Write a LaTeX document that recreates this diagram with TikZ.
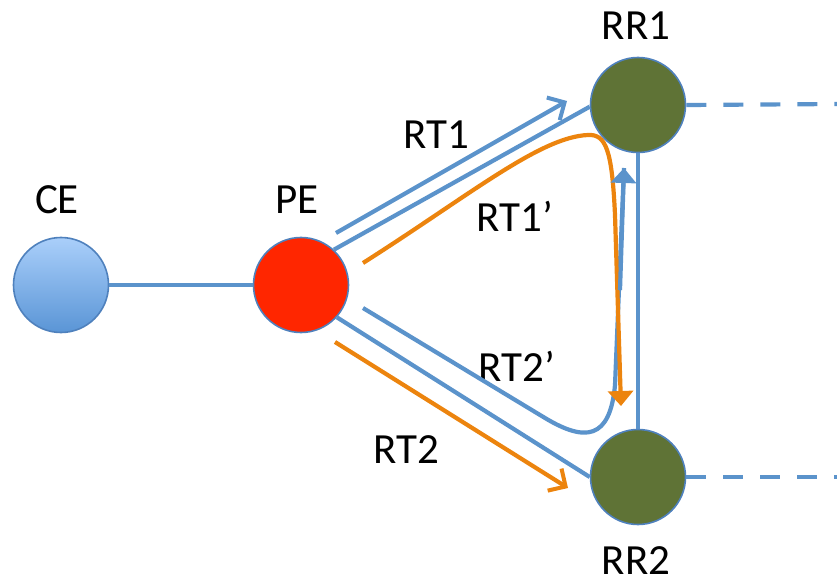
\documentclass[tikz,border=0pt]{standalone}
\usepackage{fontspec}
\setmainfont{Carlito}
\usetikzlibrary{arrows.meta}
\definecolor{lineblue}{HTML}{5B93CB}
\definecolor{edgeblue}{HTML}{4F81BD}
\definecolor{rtorange}{HTML}{EC840E}
\definecolor{rrolive}{HTML}{5F7336}
\definecolor{pered}{HTML}{FF2600}
\definecolor{cetop}{HTML}{AACFFA}
\definecolor{cebot}{HTML}{5A95D6}
\tikzset{
  router/.style={circle, draw=edgeblue, line width=1.6pt, minimum size=95pt, inner sep=0pt},
  lbl/.style={font=\fontsize{43}{45}\selectfont, inner sep=0pt, text=black},
  bline/.style={draw=lineblue, line width=4.2pt},
  oline/.style={draw=rtorange, line width=4.2pt},
  openhead/.style={-{Straight Barb[length=13pt,width=26pt,line width=4pt]}},
  fillhead/.style={-{Triangle[length=15pt,width=25pt]}},
}
\begin{document}
\begin{tikzpicture}[x=1pt,y=-1pt]
\useasboundingbox (0,0) rectangle (837,585);
% routers
\node[router, top color=cetop, bottom color=cebot] (ce) at (61,285) {};
\node[router, fill=pered] (pe) at (301,285) {};
\node[router, fill=rrolive] (rr1) at (638,105) {};
\node[router, fill=rrolive] (rr2) at (638,477) {};
% labels
\node[lbl] (lce) at (57,200) {CE};
\node[lbl] (lpe) at (297,200) {PE};
\node[lbl] (lrr1) at (636,26) {RR1};
\node[lbl] (lrr2) at (636,561) {RR2};
\node[lbl] (lrt1) at (436,135) {RT1};
\node[lbl] (lrt1p) at (515,216) {RT1’};
\node[lbl] (lrt2p) at (517,366) {RT2’};
\node[lbl] (lrt2) at (406,450) {RT2};
% free ends
\coordinate (e1) at (837,104);
\coordinate (e2) at (837,477);
\coordinate (rt1s) at (336,233);
\coordinate (rt1e) at (567,101);
\coordinate (rt2s) at (335,342);
\coordinate (rt2e) at (568,488);
\coordinate (o1s) at (363,263);
\coordinate (o1e) at (621,406);
\coordinate (b2s) at (363,308);
\coordinate (b2m) at (620,290);
\coordinate (b2e) at (624,168);
% links
\draw[bline] (ce) -- (pe);
\draw[bline] (pe.47) -- (rr1.182);
\draw[bline] (pe.-42) -- (rr2.west);
\draw[bline] (rr2.north) -- (rr1.south);
\draw[bline, dash pattern=on 20pt off 17pt] (rr1.east) -- (e1);
\draw[bline, dash pattern=on 20pt off 17pt] (rr2.east) -- (e2);
% route arrows
\draw[bline, openhead] (rt1s) -- (rt1e);
\draw[oline, openhead] (rt2s) -- (rt2e);
\draw[bline] (b2s) -- (545,418) .. controls (585,442) and (610,440) .. (615,385) -- (b2e);
\draw[oline, fillhead] (o1s) .. controls (470,195) and (540,137) .. (588,135) .. controls (606,134) and (612,150) .. (615,215) -- (o1e);
\draw[bline, fillhead] (b2m) -- (b2e);
\end{tikzpicture}
\end{document}
